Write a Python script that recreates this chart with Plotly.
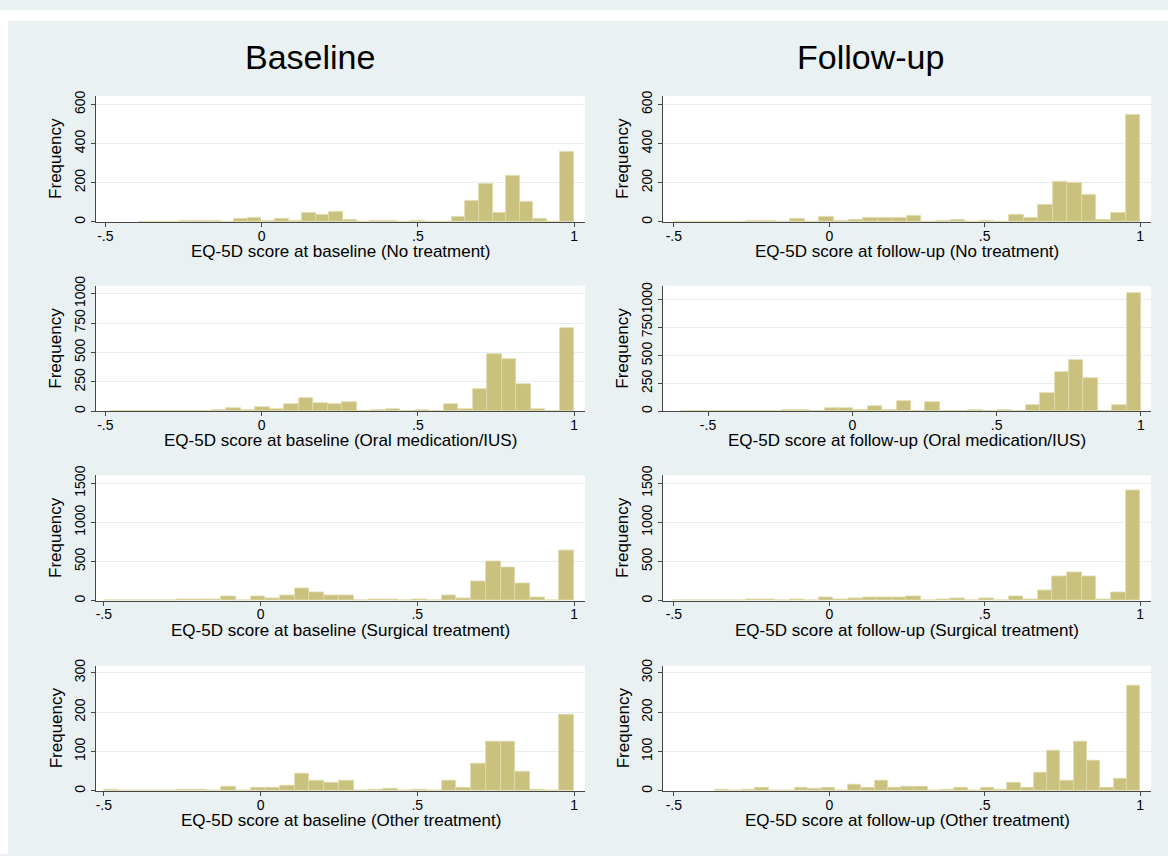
import plotly.graph_objects as go

# ---- EQ-5D histograms: counts per bin, lowest bin first, last bin ends at 1 ----
column_titles = ["Baseline", "Follow-up"]

treatments = ["No treatment", "Oral medication/IUS", "Surgical treatment", "Other treatment"]

base_none_width = 0.0435
base_none_counts = [3, 3, 0, 6, 7, 7, 0, 18, 22, 8, 17, 8, 48, 38, 53, 13,
                    0, 4, 7, 0, 7, 2, 3, 28, 108, 195, 48, 237, 103, 18, 0, 356]

follow_none_width = 0.0469
follow_none_counts = [2, 2, 2, 2, 2, 7, 7, 0, 18, 0, 28, 8, 13, 23, 22, 22,
                      33, 0, 5, 10, 0, 8, 0, 35, 20, 88, 205, 200, 140, 10, 48, 545]

base_oral_width = 0.0464
base_oral_counts = [3, 3, 5, 3, 3, 3, 5, 12, 25, 8, 35, 18, 65, 110, 68, 60,
                    78, 0, 8, 15, 0, 12, 0, 60, 15, 190, 490, 445, 235, 15, 0, 705]

follow_oral_width = 0.0498
follow_oral_counts = [5, 2, 5, 2, 5, 3, 5, 12, 12, 5, 30, 30, 12, 48, 8, 95,
                      5, 80, 5, 5, 15, 5, 12, 5, 60, 165, 350, 460, 300, 5, 60, 1065]

base_surg_width = 0.0469
base_surg_counts = [3, 3, 3, 3, 3, 10, 15, 15, 50, 5, 60, 25, 70, 160, 105, 70,
                    70, 0, 15, 20, 0, 15, 0, 70, 25, 240, 500, 420, 220, 35, 0, 645]

follow_surg_width = 0.0470
follow_surg_counts = [3, 3, 3, 3, 3, 15, 12, 5, 20, 0, 40, 15, 30, 40, 42, 35,
                      50, 0, 10, 28, 0, 28, 0, 60, 20, 125, 305, 360, 305, 15, 105, 1405]

base_other_width = 0.0469
base_other_counts = [2, 0, 0, 0, 0, 4, 4, 0, 10, 0, 9, 7, 12, 44, 27, 20,
                     27, 0, 4, 6, 0, 3, 0, 25, 7, 70, 125, 125, 50, 4, 0, 193]

follow_other_width = 0.0427
follow_other_counts = [3, 0, 3, 8, 0, 0, 7, 5, 9, 0, 15, 7, 25, 7, 10, 10,
                       0, 4, 7, 0, 7, 2, 20, 7, 47, 103, 25, 125, 78, 7, 30, 268]

x_tickvals = [-0.5, 0, 0.5, 1]
x_ticktext = ["-.5", "0", ".5", "1"]

y_ticks_by_row = [
    [0, 200, 400, 600],
    [0, 250, 500, 750, 1000],
    [0, 500, 1000, 1500],
    [0, 100, 200, 300],
]

# ---- styling ----
W, H = 1168, 856
FONT = "Liberation Sans, Arial, Helvetica, sans-serif"
BAR_FILL = "rgb(202,193,126)"
BAR_EDGE = "rgb(224,218,172)"
AXIS_COLOR = "rgb(70,70,70)"
GRID_COLOR = "rgb(232,239,241)"
REGION_BG = "rgb(233,241,243)"
TICK_SIZE = 14
TITLE_SIZE = 17

col_x = [(96, 585), (663, 1151)]           # pixel extents of plot areas
row_y = [(87, 215), (280, 407), (472, 599), (665, 792)]
y_top = [[644, 644], [1064, 1124], [1600, 1600], [318, 318]]
x_left = [[-0.53, -0.535], [-0.53, -0.656], [-0.525, -0.535], [-0.525, -0.535]]
x_right = 1.035

panels = [
    [(base_none_width, base_none_counts), (follow_none_width, follow_none_counts)],
    [(base_oral_width, base_oral_counts), (follow_oral_width, follow_oral_counts)],
    [(base_surg_width, base_surg_counts), (follow_surg_width, follow_surg_counts)],
    [(base_other_width, base_other_counts), (follow_other_width, follow_other_counts)],
]
stage_words = ["baseline", "follow-up"]


def px_x(p):
    return p / W


def px_y(p):
    return 1 - p / H


fig = go.Figure()
annotations = []
layout_axes = {}

k = 0
for r in range(4):
    for c in range(2):
        k += 1
        width, counts = panels[r][c]
        n = len(counts)
        centers = [1 - width * (n - i - 0.5) for i in range(n)]
        xa = "x" if k == 1 else f"x{k}"
        ya = "y" if k == 1 else f"y{k}"
        fig.add_trace(go.Bar(
            x=centers, y=counts, width=width,
            marker=dict(color=BAR_FILL, line=dict(color=BAR_EDGE, width=0.8)),
            xaxis=xa, yaxis=ya, hoverinfo="x+y",
        ))
        xkey = "xaxis" if k == 1 else f"xaxis{k}"
        ykey = "yaxis" if k == 1 else f"yaxis{k}"
        x0, x1 = col_x[c]
        y0, y1 = row_y[r]
        layout_axes[xkey] = dict(
            domain=[px_x(x0), px_x(x1)], anchor=ya,
            range=[x_left[r][c], x_right],
            tickvals=x_tickvals, ticktext=x_ticktext,
            ticks="outside", ticklen=4, tickcolor=AXIS_COLOR, tickwidth=1,
            ticklabelstandoff=-3,
            showline=True, linecolor=AXIS_COLOR, linewidth=1,
            showgrid=False, zeroline=False,
            tickfont=dict(family=FONT, size=TICK_SIZE, color="black"),
            fixedrange=True,
        )
        layout_axes[ykey] = dict(
            domain=[px_y(y1), px_y(y0)], anchor=xa,
            range=[0, y_top[r][c]],
            tickvals=y_ticks_by_row[r],
            ticktext=[str(v) for v in y_ticks_by_row[r]],
            tickangle=-90,
            ticks="outside", ticklen=4, tickcolor=AXIS_COLOR, tickwidth=1,
            showline=True, linecolor=AXIS_COLOR, linewidth=1,
            showgrid=True, gridcolor=GRID_COLOR, gridwidth=1,
            zeroline=False,
            tickfont=dict(family=FONT, size=TICK_SIZE, color="black"),
            fixedrange=True,
        )
        # x-axis title
        annotations.append(dict(
            xref="paper", yref="paper",
            x=px_x((x0 + x1) / 2), y=px_y(y1 + 30),
            xanchor="center", yanchor="middle", showarrow=False,
            text=f"EQ-5D score at {stage_words[c]} ({treatments[r]})",
            font=dict(family=FONT, size=TITLE_SIZE, color="black"),
        ))
        # y-axis title
        annotations.append(dict(
            xref="paper", yref="paper",
            x=px_x(x0 - 40), y=px_y((y0 + y1) / 2),
            xanchor="center", yanchor="middle", showarrow=False,
            text="Frequency", textangle=-90,
            font=dict(family=FONT, size=TITLE_SIZE, color="black"),
        ))

# column headings
for c, title in enumerate(column_titles):
    annotations.append(dict(
        xref="paper", yref="paper",
        x=px_x([310, 870][c]), y=px_y(48),
        xanchor="center", yanchor="middle", showarrow=False,
        text=title, font=dict(family=FONT, size=34, color="black"),
    ))

fig.update_layout(
    width=W, height=H,
    margin=dict(l=0, r=0, t=0, b=0),
    paper_bgcolor=REGION_BG,
    plot_bgcolor="white",
    showlegend=False,
    bargap=0,
    annotations=annotations,
    shapes=[
        # white page border above and to the left of the graph region
        dict(type="rect", xref="paper", yref="paper", x0=0, x1=1,
             y0=px_y(11), y1=1, fillcolor="white", line=dict(width=0), layer="above"),
        dict(type="rect", xref="paper", yref="paper", x0=0, x1=px_x(8),
             y0=0, y1=1, fillcolor="white", line=dict(width=0), layer="above"),
    ],
    **layout_axes,
)

fig.write_html("out.html")
